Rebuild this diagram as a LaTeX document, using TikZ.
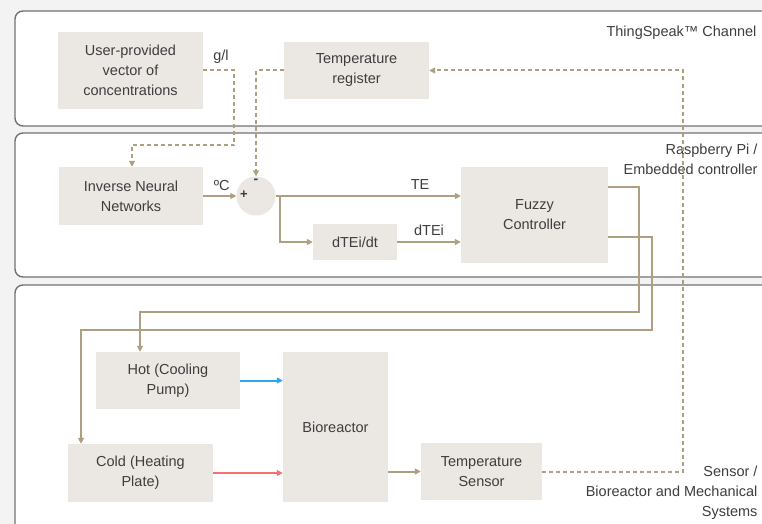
\documentclass[tikz,border=0pt]{standalone}
\usepackage{fontspec}
\setmainfont{Liberation Sans}
\usetikzlibrary{arrows.meta}
\definecolor{panelgray}{HTML}{F3F3F3}
\definecolor{edgegray}{HTML}{727272}
\definecolor{boxfill}{HTML}{EBE7E2}
\definecolor{tan}{HTML}{AE9F80}
\definecolor{txt}{HTML}{3E3E3E}
\definecolor{coolblue}{HTML}{2AA6F2}
\definecolor{warmred}{HTML}{F27272}
\begin{document}
\begin{tikzpicture}[x=1pt,y=-1pt,
    every node/.style={font=\fontsize{14.5}{20}\selectfont,text=txt},
    box/.style={fill=boxfill,align=center,inner sep=2pt},
    panel/.style={draw=edgegray,line width=1.4pt,fill=white,rounded corners=8pt},
    link/.style={draw=tan,line width=2pt,-{Triangle[length=6pt,width=6pt]}},
    dlink/.style={link,dash pattern=on 4pt off 3pt},
    plain/.style={draw=tan,line width=2pt}]
    \useasboundingbox (0,0) rectangle (762,524);
    \clip (0,0) rectangle (762,524);
    \fill[panelgray] (0,0) rectangle (762,524);
    % layers
    \draw[panel] (15,11) rectangle (790,126);
    \draw[panel] (15,133) rectangle (790,277);
    \draw[panel] (15,285) rectangle (790,560);
    \node[anchor=east] (chan) at (760,33) {ThingSpeak™ Channel};
    \node[anchor=north east,align=right] (rpi) at (761,140) {Raspberry Pi /\\Embedded controller};
    \node[anchor=east,align=right] (sys) at (761,493) {Sensor /\\Bioreactor and Mechanical\\Systems};
    % blocks
    \node[box,minimum width=145pt,minimum height=77pt] (user) at (130.5,70.5) {User-provided\\vector of\\concentrations};
    \node[box,minimum width=145pt,minimum height=57pt] (reg) at (356.5,70.5) {Temperature\\register};
    \node[box,minimum width=144pt,minimum height=58pt] (inn) at (131,196) {Inverse Neural\\Networks};
    \node[circle,fill=boxfill,minimum size=39pt,inner sep=0pt] (sum) at (256,196) {};
    \node[box,minimum width=84pt,minimum height=36pt] (deriv) at (355,242) {dTEi/dt};
    \node[box,minimum width=147pt,minimum height=96pt] (fuzzy) at (534.5,215) {Fuzzy\\Controller};
    \node[box,minimum width=144pt,minimum height=57pt] (hot) at (168,380.5) {Hot (Cooling\\Pump)};
    \node[box,minimum width=145pt,minimum height=58pt] (cold) at (140.5,473) {Cold (Heating\\Plate)};
    \node[box,minimum width=105pt,minimum height=150pt] (bio) at (335.5,427) {Bioreactor};
    \node[box,minimum width=121pt,minimum height=57pt] (sensor) at (481.5,471.5) {Temperature\\Sensor};
    \node[font=\fontsize{13}{13}\selectfont\bfseries] (plus) at (244,195) {+};
    \node[font=\fontsize{14}{14}\selectfont\bfseries] (minus) at (256,181) {-};
    % dashed data links
    \draw[dlink] (user.east) -- ++(31,0) |- ([xshift=1pt,yshift=22pt]inn.north) -- ([xshift=1pt]inn.north);
    \node (gl) at (221,57) {g/l};
    \draw[dlink] (reg.west) -| (sum.north);
    \draw[dlink] (sensor.east) -- ++(141,0) |- (reg.east);
    % controller loop
    \draw[link] (inn.east) -- (sum.west) node[midway,above=1pt,xshift=2pt] (degc) {ºC};
    \draw[link] (sum.east) -- (sum.east -| fuzzy.west) node[pos=0.78,above=2pt] (te) {TE};
    \coordinate (br) at ([xshift=4pt]sum.east);
    \draw[link] (br) |- (deriv.west);
    \draw[link] (deriv.east) -- (deriv.east -| fuzzy.west) node[midway,above=2pt] (dte) {dTEi};
    \draw[link] ([yshift=28pt]fuzzy.east) -- ++(31,0) |- ([xshift=-28pt,yshift=40pt]hot.north) -- ([xshift=-28pt]hot.north);
    \draw[link] ([yshift=-22pt]fuzzy.east) -- ++(44,0) |- ([xshift=-59.5pt,yshift=114pt]cold.north) -- ([xshift=-59.5pt]cold.north);
    \draw[link,draw=coolblue] (hot.east) -- (hot.east -| bio.west);
    \draw[link,draw=warmred] (cold.east) -- (cold.east -| bio.west);
    \draw[link] (sensor.west -| bio.east) -- (sensor.west);
\end{tikzpicture}
\end{document}
